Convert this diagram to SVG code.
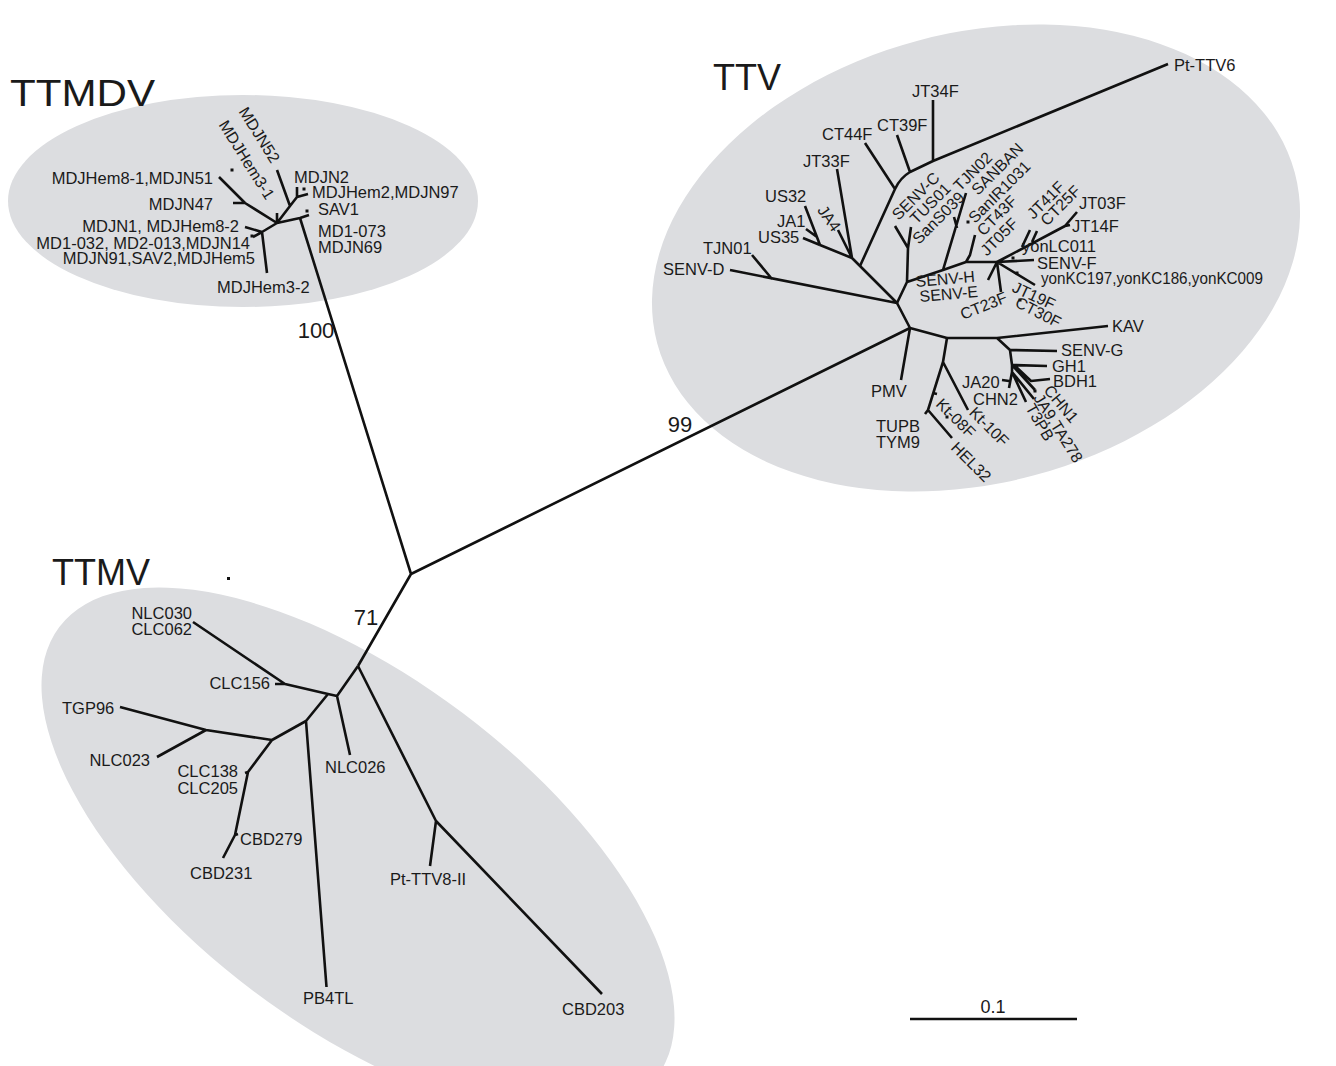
<svg xmlns="http://www.w3.org/2000/svg" width="1336" height="1066" viewBox="0 0 1336 1066">
<style>
.bg{fill:#dcdde0;stroke:none}
.b{fill:none;stroke:#111;stroke-width:2.6;stroke-linejoin:round;stroke-linecap:butt}
text{font-family:"Liberation Sans",Arial,sans-serif;font-size:16.5px;fill:#1a1a1a}
.r{font-size:16px}
.big{font-size:36px}
.num{font-size:22px}
.e{text-anchor:end}
.m{text-anchor:middle}
.dot{fill:#111}
</style>
<rect width="1336" height="1066" fill="#fff"/>
<g id="groups">
<ellipse class="bg" cx="243" cy="201" rx="235" ry="106"/>
<ellipse class="bg" cx="976" cy="258" rx="330" ry="225" transform="rotate(-15 976 258)"/>
<ellipse class="bg" cx="358" cy="852" rx="374" ry="174" transform="rotate(37 358 852)"/>
</g>
<g id="branches">
<path class="b" d="M411,574 L300,218 M411,574 L910,328 M411,574 L358,666"/>
<path class="b" d="M300,218 L309,215 M300,218 L277,223 L290,206 L277,170 M290,206 L297,197 L297,187 M297,197 L308,194 M277,223 L277,213 M277,223 L245,203 L219,177 M245,203 L233,203 M277,223 L262,232 L245,227 M262,232 L253,237 M262,232 L267,273"/>
<path class="b" d="M358,666 L436,821 L430,866 M436,821 L602,994 M358,666 L337,696 L350,755 M337,696 L328,694 L285,684 L275,684 M285,684 L193,622 M328,694 L306,721 L326.5,987 M306,721 L272,740 L206,730 L120,707 M206,730 L157,757 M272,740 L248,772 L245,773 M248,772 L235,835 L238,834 M235,835 L223,858"/>
<path class="b" d="M910,328 L901,380 M910,328 L897,303 M910,328 L947,338"/>
<path class="b" d="M897,303 L730,270 M772,279 L752,255 M897,303 L860,266 L852,258 L820,245 M852,258 L837,169 M852,258 L838,230 M820,245 L805,206 M817,237 L806,229 M820,245 L803,238"/>
<path class="b" d="M860,266 L895,189 Q900,178 910,172 L933,161 L1168,64 M895,189 L865,143 M910,172 L897,135 M933,161 L933,100"/>
<path class="b" d="M897,303 L907,282 L908,248 L911,227 M908,248 L895,226 M907,282 L943,270 L966,193 M957,228 L954,217 M943,270 L966,262 L997,262 M966,262 L970,255 L975,235"/>
<path class="b" d="M997,262 L988,280 M997,262 L1065,226 L1077,212 M1065,226 L1070,225 M1022,247 L1030,230 M1032,242 L1037,231 M997,262 L1034,260 M997,262 L1035,285 M997,262 L1001,292"/>
<path class="b" d="M947,338 L997,338 L1108,326 M997,338 L1010,350 L1057,351 M1010,350 L1012,365 L1047,366 M1012,365 L1012,372 L1009,388 M1009,381 L1002,380 M1012,372 L1026,402 M1012,372 L1034,399 M1013,366 L1035,390 M1014,365 L1031,381 L1050,379"/>
<path class="b" d="M947,338 L943,362 L968,410 M943,362 L928,410 L952,438 M928,410 L925,414 M933,393 L937,394"/>
<rect class="dot" x="230.5" y="168.5" width="3" height="3"/>
<rect class="dot" x="302.5" y="187.5" width="3" height="3"/>
<rect class="dot" x="305.5" y="209.5" width="3" height="3"/>
<rect class="dot" x="250.5" y="234.5" width="3" height="3"/>
<rect class="dot" x="966.5" y="220.5" width="3" height="3"/>
<rect class="dot" x="1011.5" y="256.5" width="3" height="3"/>
<rect class="dot" x="1015.5" y="271.5" width="3" height="3"/>
<rect class="dot" x="1018.5" y="298.5" width="3" height="3"/>
<rect class="dot" x="1033.5" y="389.5" width="3" height="3"/>
<rect class="dot" x="945.5" y="415.5" width="3" height="3"/>
<rect class="dot" x="227" y="577" width="3" height="3"/>
</g>
<g id="clade-labels">
<text class="big" x="10" y="106" textLength="145" lengthAdjust="spacingAndGlyphs">TTMDV</text>
<text class="big" x="713" y="90">TTV</text>
<text class="big" x="52" y="585">TTMV</text>
</g>
<g id="support">
<text class="num m" x="316" y="338">100</text>
<text class="num m" x="680" y="432">99</text>
<text class="num m" x="366" y="625">71</text>
</g>
<g id="ttmdv-leaves">
<g id="n-MDJHem8-1"><text class="e" x="213" y="184">MDJHem8-1,MDJN51</text></g>
<g id="n-MDJN47"><text class="e" x="213" y="210">MDJN47</text></g>
<g id="n-MDJN1"><text class="e" x="239" y="232">MDJN1, MDJHem8-2</text></g>
<g id="n-MD1-032"><text class="e" x="250" y="249">MD1-032, MD2-013,MDJN14</text></g>
<g id="n-MDJN91"><text class="e" x="255" y="264">MDJN91,SAV2,MDJHem5</text></g>
<g id="n-MDJHem3-2"><text x="217" y="293">MDJHem3-2</text></g>
<g id="n-MDJN2"><text x="294" y="183">MDJN2</text></g>
<g id="n-MDJHem2"><text x="312" y="198">MDJHem2,MDJN97</text></g>
<g id="n-SAV1"><text x="318" y="214.5">SAV1</text></g>
<g id="n-MD1-073"><text x="318" y="237">MD1-073</text></g>
<g id="n-MDJN69"><text x="318" y="253">MDJN69</text></g>
<g id="n-MDJN52"><text class="r" transform="translate(238.3,111.4) rotate(58)">MDJN52</text></g>
<g id="n-MDJHem3-1"><text class="r" transform="translate(218.3,124.7) rotate(58)">MDJHem3-1</text></g>
</g>
<g id="ttv-leaves">
<g id="n-Pt-TTV6"><text x="1174" y="71">Pt-TTV6</text></g>
<g id="n-JT34F"><text x="912" y="97">JT34F</text></g>
<g id="n-CT39F"><text x="877" y="131">CT39F</text></g>
<g id="n-CT44F"><text x="822" y="140">CT44F</text></g>
<g id="n-JT33F"><text x="803" y="167">JT33F</text></g>
<g id="n-US32"><text x="765" y="202">US32</text></g>
<g id="n-JA1"><text x="777" y="227">JA1</text></g>
<g id="n-US35"><text x="758" y="243">US35</text></g>
<g id="n-TJN01"><text x="703" y="254">TJN01</text></g>
<g id="n-SENV-D"><text x="663" y="275">SENV-D</text></g>
<g id="n-JA4"><text class="r" transform="translate(816.7,210.2) rotate(55)">JA4</text></g>
<g id="n-SENV-C"><text class="r" transform="translate(898.5,221) rotate(-45)">SENV-C</text></g>
<g id="n-TUS01"><text class="r" transform="translate(916.5,225) rotate(-45)">TUS01</text></g>
<g id="n-SanS039"><text class="r" transform="translate(919,245) rotate(-45)">SanS039</text></g>
<g id="n-TJN02"><text class="r" transform="translate(960,192) rotate(-45)">TJN02</text></g>
<g id="n-SANBAN"><text class="r" transform="translate(978,196) rotate(-45)">SANBAN</text></g>
<g id="n-SanIR1031"><text class="r" transform="translate(975,224) rotate(-45)">SanIR1031</text></g>
<g id="n-CT43F"><text class="r" transform="translate(983.5,236.7) rotate(-45)">CT43F</text></g>
<g id="n-JT05F"><text class="r" transform="translate(987,256.7) rotate(-45)">JT05F</text></g>
<g id="n-JT41F"><text class="r" transform="translate(1033.5,220) rotate(-45)">JT41F</text></g>
<g id="n-CT25F"><text class="r" transform="translate(1047,226.7) rotate(-45)">CT25F</text></g>
<g id="n-JT03F"><text x="1079" y="209">JT03F</text></g>
<g id="n-JT14F"><text x="1072" y="232">JT14F</text></g>
<g id="n-yonLC011"><text x="1022" y="252">yonLC011</text></g>
<g id="n-SENV-F"><text x="1037" y="269">SENV-F</text></g>
<g id="n-yonKC"><text x="1041" y="284" textLength="222" lengthAdjust="spacingAndGlyphs">yonKC197,yonKC186,yonKC009</text></g>
<g id="n-SENV-H"><text class="r" transform="translate(916,287) rotate(-5)">SENV-H</text></g>
<g id="n-SENV-E"><text class="r" transform="translate(920,302) rotate(-5)">SENV-E</text></g>
<g id="n-CT23F"><text class="r" transform="translate(963,320) rotate(-22)">CT23F</text></g>
<g id="n-JT19F"><text class="r" transform="translate(1011,291) rotate(25)">JT19F</text></g>
<g id="n-CT30F"><text class="r" transform="translate(1014,306) rotate(27)">CT30F</text></g>
<g id="n-KAV"><text x="1112" y="332">KAV</text></g>
<g id="n-SENV-G"><text x="1061" y="356">SENV-G</text></g>
<g id="n-GH1"><text x="1052" y="372">GH1</text></g>
<g id="n-BDH1"><text x="1053" y="387">BDH1</text></g>
<g id="n-JA20"><text x="962" y="388">JA20</text></g>
<g id="n-CHN2"><text x="973" y="405">CHN2</text></g>
<g id="n-CHN1"><text class="r" transform="translate(1043,390.7) rotate(50)">CHN1</text></g>
<g id="n-JA9"><text class="r" transform="translate(1033,398) rotate(58)">JA9,TA278</text></g>
<g id="n-T3PB"><text class="r" transform="translate(1025,407.7) rotate(60)">T3PB</text></g>
<g id="n-Kt-08F"><text class="r" transform="translate(935,405) rotate(45)">Kt-08F</text></g>
<g id="n-Kt-10F"><text class="r" transform="translate(968.3,413.5) rotate(45)">Kt-10F</text></g>
<g id="n-HEL32"><text class="r" transform="translate(950,448.5) rotate(45)">HEL32</text></g>
<g id="n-PMV"><text x="871" y="397">PMV</text></g>
<g id="n-TUPB"><text x="876" y="432">TUPB</text></g>
<g id="n-TYM9"><text x="876" y="448">TYM9</text></g>
</g>
<g id="ttmv-leaves">
<g id="n-NLC030"><text class="e" x="192" y="619">NLC030</text></g>
<g id="n-CLC062"><text class="e" x="192" y="635">CLC062</text></g>
<g id="n-CLC156"><text class="e" x="270" y="689">CLC156</text></g>
<g id="n-TGP96"><text x="62" y="714">TGP96</text></g>
<g id="n-NLC023"><text class="e" x="150" y="766">NLC023</text></g>
<g id="n-CLC138"><text class="e" x="238" y="777">CLC138</text></g>
<g id="n-CLC205"><text class="e" x="238" y="794">CLC205</text></g>
<g id="n-CBD279"><text x="240" y="845">CBD279</text></g>
<g id="n-CBD231"><text x="190" y="879">CBD231</text></g>
<g id="n-NLC026"><text x="325" y="773">NLC026</text></g>
<g id="n-Pt-TTV8-II"><text x="390" y="885">Pt-TTV8-II</text></g>
<g id="n-PB4TL"><text x="303" y="1004">PB4TL</text></g>
<g id="n-CBD203"><text x="562" y="1015">CBD203</text></g>
</g>
<g id="scale">
<path class="b" d="M910,1019 L1077,1019"/>
<text class="m" x="993" y="1013" style="font-size:18px">0.1</text>
</g>
</svg>
